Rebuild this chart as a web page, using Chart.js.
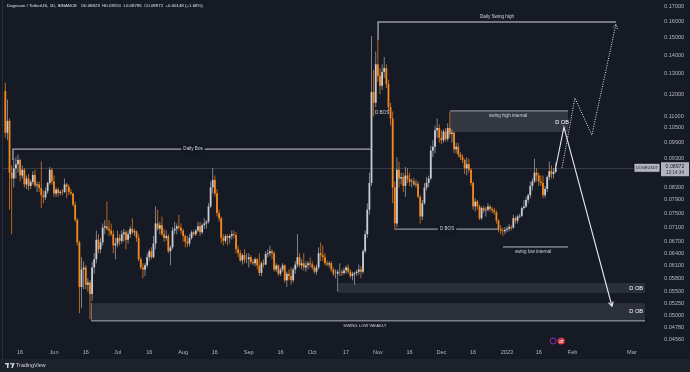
<!DOCTYPE html>
<html>
<head>
<meta charset="utf-8">
<title>Dogecoin / TetherUS, 1D</title>
<script src="https://cdn.jsdelivr.net/npm/chart.js@4.4.1/dist/chart.umd.min.js"></script>
<style>
html,body{margin:0;padding:0;background:#161a25;overflow:hidden;}
#box{width:690px;height:372px;position:relative;}
</style>
</head>
<body>
<div id="box"><canvas id="c" width="690" height="372"></canvas></div>
<script>
// ---- DATA (day index 0 = 2022-05-09, daily candles) ----
const headerTitle = 'Dogecoin / TetherUS, 1D, BINANCE';
const headerValues = ['O0.08823', 'H0.09151', 'L0.08785', 'C0.08972', '+0.00148 (+1.68%)'];
const symbolName = 'DOGEUSDT';
const countdownText = '13:14:34';
const firstOpen = 0.1215;

const closes = [
  // May 9 - May 31
  0.1030,0.1080,0.0880,0.0860,0.0895,0.0910,0.0925,0.0870,0.0890,0.0840,0.0860,0.0835,0.0848,0.0872,0.0836,0.0840,0.0828,0.0805,0.0798,0.0818,0.0845,0.0890,0.0850,
  // Jun
  0.0810,0.0823,0.0812,0.0816,0.0815,0.0840,0.0832,0.0815,0.0810,0.0775,0.0730,0.0668,0.0560,0.0600,0.0605,0.0565,0.0570,0.0545,0.0605,0.0625,0.0675,0.0650,0.0668,0.0708,0.0712,0.0705,0.0700,0.0690,0.0660,0.0665,
  // Jul
  0.0680,0.0672,0.0690,0.0695,0.0675,0.0690,0.0705,0.0695,0.0698,0.0680,0.0625,0.0605,0.0600,0.0610,0.0630,0.0645,0.0630,0.0665,0.0720,0.0705,0.0715,0.0690,0.0680,0.0685,0.0645,0.0655,0.0700,0.0705,0.0712,0.0708,0.0700,
  // Aug
  0.0685,0.0670,0.0665,0.0680,0.0695,0.0690,0.0700,0.0712,0.0695,0.0715,0.0720,0.0725,0.0770,0.0830,0.0855,0.0810,0.0750,0.0735,0.0680,0.0672,0.0685,0.0680,0.0685,0.0690,0.0688,0.0650,0.0640,0.0622,0.0635,0.0625,0.0625,
  // Sep
  0.0630,0.0618,0.0615,0.0625,0.0610,0.0592,0.0615,0.0612,0.0638,0.0640,0.0645,0.0640,0.0600,0.0610,0.0590,0.0600,0.0610,0.0575,0.0590,0.0585,0.0575,0.0600,0.0612,0.0630,0.0610,0.0615,0.0605,0.0610,0.0615,0.0612,
  // Oct
  0.0605,0.0595,0.0605,0.0640,0.0635,0.0630,0.0615,0.0612,0.0615,0.0600,0.0590,0.0590,0.0595,0.0595,0.0592,0.0598,0.0605,0.0595,0.0585,0.0590,0.0592,0.0595,0.0600,0.0595,0.0645,0.0690,0.0760,0.0845,0.1210,0.1160,0.1350,
  // Nov
  0.1290,0.1240,0.1310,0.1330,0.1250,0.1140,0.1090,0.0830,0.0720,0.0890,0.0860,0.0865,0.0835,0.0870,0.0858,0.0848,0.0850,0.0840,0.0842,0.0800,0.0740,0.0780,0.0830,0.0845,0.0860,0.0960,0.0975,0.1040,0.1050,0.1010,
  // Dec
  0.1000,0.1035,0.1005,0.1050,0.1025,0.1030,0.0965,0.0975,0.0945,0.0935,0.0925,0.0895,0.0910,0.0890,0.0845,0.0770,0.0785,0.0770,0.0735,0.0765,0.0758,0.0760,0.0770,0.0762,0.0758,0.0752,0.0728,0.0705,0.0700,0.0698,0.0702,
  // Jan 2023 (1 - 24)
  0.0705,0.0710,0.0708,0.0735,0.0728,0.0740,0.0742,0.0765,0.0770,0.0790,0.0805,0.0835,0.0850,0.0880,0.0870,0.0850,0.0845,0.0805,0.0825,0.0865,0.0885,0.0875,0.08823,0.08972
];
const highs = [
  0.1255,0.1175,0.1090,0.0905,0.0930,0.0935,0.0945,0.0930,0.0905,0.0895,0.0870,0.0875,0.0855,0.0885,0.0890,0.0850,0.0850,0.0920,0.0820,0.0830,0.0850,0.0900,0.0895,
  0.0870,0.0830,0.0830,0.0822,0.0825,0.0860,0.0845,0.0840,0.0825,0.0812,0.0785,0.0735,0.0672,0.0630,0.0620,0.0610,0.0580,0.0575,0.0618,0.0640,0.0700,0.0690,0.0680,0.0720,0.0730,0.0785,0.0730,0.0720,0.0700,0.0680,
  0.0700,0.0690,0.0700,0.0705,0.0700,0.0700,0.0712,0.0735,0.0705,0.0700,0.0690,0.0630,0.0615,0.0615,0.0640,0.0650,0.0655,0.0685,0.0770,0.0760,0.0725,0.0740,0.0705,0.0700,0.0690,0.0660,0.0710,0.0725,0.0720,0.0745,0.0720,
  0.0705,0.0690,0.0685,0.0690,0.0700,0.0700,0.0705,0.0725,0.0725,0.0720,0.0735,0.0730,0.0780,0.0850,0.0897,0.0870,0.0825,0.0760,0.0740,0.0690,0.0690,0.0690,0.0690,0.0700,0.0700,0.0695,0.0660,0.0648,0.0640,0.0650,0.0640,
  0.0640,0.0635,0.0625,0.0630,0.0628,0.0640,0.0620,0.0625,0.0645,0.0650,0.0660,0.0650,0.0645,0.0615,0.0612,0.0605,0.0615,0.0612,0.0595,0.0600,0.0605,0.0605,0.0620,0.0690,0.0640,0.0625,0.0640,0.0620,0.0620,0.0630,
  0.0620,0.0610,0.0612,0.0655,0.0668,0.0660,0.0640,0.0622,0.0620,0.0620,0.0605,0.0600,0.0600,0.0615,0.0600,0.0605,0.0610,0.0612,0.0600,0.0595,0.0595,0.0600,0.0612,0.0608,0.0650,0.0700,0.0780,0.0880,0.1510,0.1320,0.1420,
  0.1495,0.1330,0.1350,0.1390,0.1350,0.1270,0.1160,0.1120,0.0850,0.0935,0.0920,0.0880,0.0880,0.0900,0.0895,0.0880,0.0860,0.0862,0.0855,0.0850,0.0805,0.0790,0.0845,0.0865,0.0870,0.0980,0.1000,0.1060,0.1090,0.1065,
  0.1040,0.1045,0.1050,0.1070,0.1120,0.1045,0.1035,0.0990,0.0990,0.0955,0.0945,0.0930,0.0935,0.0930,0.0895,0.0850,0.0795,0.0790,0.0775,0.0770,0.0772,0.0768,0.0780,0.0775,0.0768,0.0765,0.0758,0.0732,0.0715,0.0708,0.0710,
  0.0712,0.0718,0.0715,0.0745,0.0740,0.0745,0.0748,0.0770,0.0790,0.0800,0.0810,0.0850,0.0860,0.0930,0.0895,0.0880,0.0870,0.0870,0.0835,0.0870,0.0920,0.0905,0.0895,0.09151
];
const lows = [
  0.1010,0.1000,0.0760,0.0690,0.0830,0.0860,0.0880,0.0850,0.0860,0.0830,0.0825,0.0820,0.0825,0.0840,0.0830,0.0815,0.0815,0.0765,0.0780,0.0790,0.0810,0.0840,0.0840,
  0.0800,0.0800,0.0800,0.0805,0.0805,0.0812,0.0795,0.0805,0.0805,0.0770,0.0725,0.0660,0.0505,0.0515,0.0555,0.0555,0.0550,0.0493,0.0530,0.0590,0.0615,0.0640,0.0640,0.0660,0.0690,0.0700,0.0685,0.0685,0.0640,0.0625,
  0.0655,0.0660,0.0665,0.0670,0.0650,0.0665,0.0680,0.0690,0.0685,0.0670,0.0620,0.0600,0.0580,0.0585,0.0605,0.0620,0.0625,0.0628,0.0650,0.0700,0.0690,0.0685,0.0670,0.0672,0.0640,0.0610,0.0650,0.0690,0.0690,0.0700,0.0690,
  0.0670,0.0655,0.0655,0.0658,0.0675,0.0685,0.0685,0.0695,0.0685,0.0690,0.0705,0.0705,0.0720,0.0765,0.0810,0.0800,0.0740,0.0725,0.0665,0.0660,0.0665,0.0660,0.0665,0.0675,0.0680,0.0640,0.0630,0.0618,0.0612,0.0615,0.0615,
  0.0605,0.0612,0.0610,0.0608,0.0600,0.0585,0.0585,0.0605,0.0610,0.0630,0.0632,0.0625,0.0595,0.0595,0.0585,0.0585,0.0595,0.0570,0.0560,0.0575,0.0565,0.0570,0.0590,0.0605,0.0605,0.0600,0.0598,0.0595,0.0600,0.0605,
  0.0600,0.0590,0.0588,0.0600,0.0620,0.0620,0.0610,0.0608,0.0605,0.0595,0.0585,0.0580,0.0550,0.0585,0.0585,0.0588,0.0590,0.0590,0.0580,0.0575,0.0565,0.0585,0.0588,0.0580,0.0590,0.0640,0.0680,0.0745,0.0835,0.1100,0.1140,
  0.1260,0.1200,0.1220,0.1280,0.1230,0.1120,0.1060,0.0780,0.0702,0.0710,0.0830,0.0840,0.0815,0.0800,0.0845,0.0835,0.0830,0.0835,0.0830,0.0795,0.0720,0.0730,0.0775,0.0820,0.0830,0.0855,0.0935,0.0950,0.1010,0.0990,
  0.0985,0.0990,0.0995,0.0995,0.1010,0.0990,0.0950,0.0950,0.0935,0.0925,0.0915,0.0875,0.0870,0.0880,0.0835,0.0760,0.0755,0.0760,0.0730,0.0730,0.0750,0.0740,0.0755,0.0755,0.0750,0.0745,0.0720,0.0695,0.0690,0.0685,0.0690,
  0.0695,0.0698,0.0700,0.0705,0.0720,0.0720,0.0735,0.0738,0.0760,0.0765,0.0780,0.0795,0.0820,0.0845,0.0850,0.0835,0.0835,0.0795,0.0798,0.0815,0.0855,0.0860,0.0860,0.08785
];

const xTickDays   = [7, 23, 38, 53, 68, 84, 99, 115, 130, 145, 161, 176, 191, 206, 221, 237, 252, 268, 296];
const xTickLabels = ['16','Jun','16','Jul','16','Aug','16','Sep','16','Oct','17','Nov','16','Dec','16','2023','16','Feb','Mar'];
const yTickValues = [0.17,0.16,0.15,0.14,0.13,0.12,0.11,0.105,0.099,0.093,0.083,0.079,0.075,0.071,0.067,0.064,0.061,0.058,0.055,0.0525,0.05,0.0478,0.0456];

// drawn levels: [startDay, endDay, price]
const dailyBosLine        = [3.6, 173.2, 0.0966];
const dailyBosTickLow     = [0.0925];
const dailySwingHighLine  = [176.1, 288.5, 0.1596];
const swingHighTickLow    = [0.1490];
const dBosLowLine         = [184.1, 233.2, 0.0704];
const swingLowInternalLine= [235.1, 265.8, 0.0656];
const swingLowWeeklyLine  = [40.5, 0.0490];            // to right edge
// boxes: [startDay, endDay|null, topPrice, bottomPrice]
const swingHighBox   = [210.1, 265.8, 0.1123, 0.1033];
const upperOBBox     = [157.2, null, 0.0569, 0.0547];
const lowerOBBox     = [40.5, null, 0.05255, 0.04915];
// projections
const projSolidDays    = [260, 263.9, 286.6];
const projSolidPrices  = [0.08972, 0.1053, 0.0519];
const projDottedDays   = [263.0, 269.1, 277.1, 288.5];
const projDottedPrices = [0.0897, 0.1182, 0.1021, 0.1583];
// text labels: [text, day, price]
const labelDailyBos      = ['Daily Bos', 88.7, 0.0966];
const labelSwingHigh     = ['Daily Swing high', 232.3, 0.1630];
const labelDBosUpper     = ['D BOS', 178.0, 0.1114];
const labelDBosLower     = ['D BOS', 208.7, 0.0704];
const labelSwingHighInt  = ['swing high internal', 237.5, 0.1101];
const labelDOBTop        = ['D OB', 263.0, 0.1073];
const labelSwingLowInt   = ['swing low internal', 249.3, 0.0643];
const labelSwingLowWeek  = ['SWING LOW WEAKLY', 169.9, 0.0481];
const labelOB            = 'D OB';
const eventDays = [258.8, 262.6];

// ---- derived ----
const days  = closes.map((_, i) => i);
const opens = [firstOpen].concat(closes.slice(0, -1));
const isUp  = closes.map((c, i) => c >= opens[i]);

const BG = '#161a25', FOOT = '#1e222d', TXT = '#b2b5be', LIGHT = '#d1d4dc';
const UP = '#c9ccd3', DOWN = '#f5891f', UPW = '#8c8f99', DOWNW = '#c8721a';
const FONT = "'Liberation Sans', Arial, sans-serif";

function txt(c, s, x, y, o) {
  o = o || {};
  c.font = (o.bold ? 'bold ' : '') + (o.size || 4.6) + 'px ' + FONT;
  c.textAlign = o.align || 'center';
  c.textBaseline = 'middle';
  if (o.bg) {
    const w = c.measureText(s).width;
    let lx = x - w / 2;
    if (c.textAlign === 'left') lx = x;
    if (c.textAlign === 'right') lx = x - w;
    c.fillStyle = o.bg;
    c.fillRect(lx - 2, y - (o.size || 4.6) / 2 - 1.5, w + 4, (o.size || 4.6) + 3);
  }
  c.fillStyle = o.color || LIGHT;
  c.fillText(s, x, y);
}

function arrowHead(c, x0, y0, x1, y1, len) {
  const a = Math.atan2(y1 - y0, x1 - x0);
  c.beginPath();
  c.moveTo(x1 - len * Math.cos(a - 0.5), y1 - len * Math.sin(a - 0.5));
  c.lineTo(x1, y1);
  c.lineTo(x1 - len * Math.cos(a + 0.5), y1 - len * Math.sin(a + 0.5));
  c.stroke();
}

const tvPlugin = {
  id: 'tvDecor',
  beforeDraw(chart) {
    const {ctx: c, width: W, height: H, chartArea: a} = chart;
    c.save();
    c.fillStyle = BG; c.fillRect(0, 0, W, H);
    c.fillStyle = FOOT; c.fillRect(0, H - 13, W, 13);
    c.strokeStyle = '#2a2e39'; c.lineWidth = 1;
    c.beginPath(); c.moveTo(a.left - 0.5, 0); c.lineTo(a.left - 0.5, H - 13); c.stroke();
    c.restore();
  },
  beforeDatasetsDraw(chart) {
    const {ctx: c, chartArea: a, scales: {x, y}} = chart;
    const X = d => x.getPixelForValue(d), Y = p => y.getPixelForValue(p);
    c.save();
    c.beginPath(); c.rect(a.left, a.top, a.right - a.left, a.bottom - a.top); c.clip();
    // current price line
    const yl = Math.round(Y(closes[closes.length - 1])) + 0.5;
    c.strokeStyle = '#363a46'; c.lineWidth = 1;
    c.beginPath(); c.moveTo(a.left, yl); c.lineTo(a.right, yl); c.stroke();
    // boxes
    const box = (b, fill) => {
      const x0 = X(b[0]), x1 = b[1] === null ? a.right : X(b[1]);
      const y0 = Y(b[2]), y1 = Y(b[3]);
      c.fillStyle = fill; c.fillRect(x0, y0, x1 - x0, y1 - y0);
      return [x0, x1, y0, y1];
    };
    const sb = box(swingHighBox, 'rgba(120,123,134,0.30)');
    c.strokeStyle = '#8a8d97'; c.lineWidth = 1.2;
    c.beginPath(); c.moveTo(sb[0], sb[2]); c.lineTo(sb[1], sb[2]); c.stroke();
    box(upperOBBox, 'rgba(120,123,134,0.22)');
    const lb = box(lowerOBBox, 'rgba(120,123,134,0.22)');
    c.strokeStyle = '#6f727d'; c.lineWidth = 1;
    c.beginPath(); c.moveTo(lb[0] + 0.5, lb[2]); c.lineTo(lb[0] + 0.5, lb[3]); c.stroke();
    c.restore();
  },
  afterDatasetsDraw(chart) {
    const {ctx: c, chartArea: a, scales: {x, y}, width: W, height: H} = chart;
    const X = d => x.getPixelForValue(d), Y = p => y.getPixelForValue(p);
    c.save();
    c.beginPath(); c.rect(a.left, a.top, a.right - a.left, a.bottom - a.top); c.clip();
    c.lineCap = 'butt';
    // Daily Bos line
    c.strokeStyle = '#a5a8b1'; c.lineWidth = 1.3;
    c.beginPath();
    c.moveTo(X(dailyBosLine[0]), Y(dailyBosTickLow[0]));
    c.lineTo(X(dailyBosLine[0]), Y(dailyBosLine[2]));
    c.lineTo(X(dailyBosLine[1]), Y(dailyBosLine[2]));
    c.stroke();
    // Daily swing high line
    c.strokeStyle = '#9598a1'; c.lineWidth = 1.5;
    c.beginPath();
    c.moveTo(X(dailySwingHighLine[0]), Y(swingHighTickLow[0]));
    c.lineTo(X(dailySwingHighLine[0]), Y(dailySwingHighLine[2]));
    c.lineTo(X(dailySwingHighLine[1]), Y(dailySwingHighLine[2]));
    c.stroke();
    // D BOS lower line
    c.strokeStyle = '#b2b5be'; c.lineWidth = 1;
    c.beginPath(); c.moveTo(X(dBosLowLine[0]), Y(dBosLowLine[2])); c.lineTo(X(dBosLowLine[1]), Y(dBosLowLine[2])); c.stroke();
    // swing low internal
    c.beginPath(); c.moveTo(X(swingLowInternalLine[0]), Y(swingLowInternalLine[2])); c.lineTo(X(swingLowInternalLine[1]), Y(swingLowInternalLine[2])); c.stroke();
    // swing low weekly
    c.strokeStyle = '#7d808b'; c.lineWidth = 1.5;
    c.beginPath(); c.moveTo(X(swingLowWeeklyLine[0]), Y(swingLowWeeklyLine[1])); c.lineTo(a.right, Y(swingLowWeeklyLine[1])); c.stroke();

    // projection solid
    c.strokeStyle = '#e6e8ee'; c.lineWidth = 1.1;
    const sp = projSolidDays.map((d, i) => [X(d), Y(projSolidPrices[i])]);
    c.beginPath(); sp.forEach((p, i) => i ? c.lineTo(p[0], p[1]) : c.moveTo(p[0], p[1])); c.stroke();
    const n = sp.length - 1;
    arrowHead(c, sp[n - 1][0], sp[n - 1][1], sp[n][0], sp[n][1], 5);
    // projection dotted
    c.setLineDash([1, 1.4]); c.lineWidth = 1;
    const dp = projDottedDays.map((d, i) => [X(d), Y(projDottedPrices[i])]);
    c.beginPath(); dp.forEach((p, i) => i ? c.lineTo(p[0], p[1]) : c.moveTo(p[0], p[1])); c.stroke();
    const m = dp.length - 1;
    arrowHead(c, dp[m - 1][0], dp[m - 1][1], dp[m][0], dp[m][1], 5);
    c.setLineDash([]);

    // labels
    const L = (l, o) => txt(c, l[0], X(l[1]), Y(l[2]), o);
    L(labelDailyBos, {bg: '#131722'});
    L(labelSwingHigh, {});
    L(labelDBosUpper, {});
    L(labelDBosLower, {bg: '#131722'});
    L(labelSwingHighInt, {});
    L(labelDOBTop, {size: 5.6, color: '#ffffff'});
    L(labelSwingLowInt, {});
    L(labelSwingLowWeek, {size: 4.2});
    txt(c, labelOB, a.right - 2, (Y(upperOBBox[2]) + Y(upperOBBox[3])) / 2, {size: 5.6, align: 'right', color: '#ffffff'});
    txt(c, labelOB, a.right - 2, (Y(lowerOBBox[2]) + Y(lowerOBBox[3])) / 2, {size: 5.6, align: 'right', color: '#ffffff'});

    // event markers at bottom
    const ey = a.bottom - 4;
    c.strokeStyle = '#9c27b0'; c.lineWidth = 1;
    c.beginPath(); c.arc(X(eventDays[0]), ey, 3, 0, Math.PI * 2); c.stroke();
    c.fillStyle = '#e53935';
    c.beginPath(); c.arc(X(eventDays[1]), ey, 3.6, 0, Math.PI * 2); c.fill();
    c.fillStyle = '#ffffff'; c.fillRect(X(eventDays[1]) - 2, ey - 1, 4, 0.8); c.fillRect(X(eventDays[1]) - 2, ey + 0.7, 4, 0.8);
    c.fillStyle = '#1e4fbf'; c.fillRect(X(eventDays[1]) - 2.2, ey - 2.4, 2, 1.8);
    c.restore();

    // price labels on right
    c.save();
    const yl = Y(closes[closes.length - 1]);
    c.fillStyle = '#b2b5be';
    c.fillRect(a.right - 11, yl - 4.5, 26, 9);
    c.strokeStyle = '#0c0e15'; c.lineWidth = 0.8; c.strokeRect(a.right - 11, yl - 4.5, 26, 9);
    c.font = '10px ' + FONT;
    const sw = c.measureText(symbolName).width;
    txt(c, symbolName, a.right + 2, yl, {size: 10 * 22 / sw, color: '#131722'});
    c.fillStyle = '#b2b5be';
    c.fillRect(a.right + 16, yl - 5.5, 28, 14);
    txt(c, closes[closes.length - 1].toFixed(5), a.right + 30, yl - 1.5, {size: 5.2, color: '#131722'});
    txt(c, countdownText, a.right + 30, yl + 4.5, {size: 4.6, color: '#2a2e39'});

    // header
    const head = headerTitle + '   ' + headerValues.join('  ');
    c.font = '10px ' + FONT;
    const hw = c.measureText(head).width;
    txt(c, head, a.left + 4, 5.5, {size: 10 * 196 / hw, align: 'left', color: '#e0e3eb'});

    // footer logo + text
    const fy = H - 6.5;
    c.fillStyle = '#d1d4dc';
    c.fillRect(5, fy - 2.5, 4, 1.4); c.fillRect(7, fy - 2.5, 1.5, 5);
    c.beginPath(); c.arc(11, fy - 1.8, 0.9, 0, Math.PI * 2); c.fill();
    c.beginPath(); c.moveTo(12.5, fy - 2.5); c.lineTo(14.6, fy - 2.5); c.lineTo(12.8, fy + 2.5); c.lineTo(11.3, fy + 2.5); c.closePath(); c.fill();
    txt(c, 'TradingView', 16, fy, {size: 5.4, align: 'left', color: '#d1d4dc'});
    c.restore();
  }
};

new Chart(document.getElementById('c'), {
  type: 'bar',
  data: {
    datasets: [
      {
        label: 'wick',
        data: days.map((d, i) => ({x: d, y: [lows[i], highs[i]]})),
        backgroundColor: isUp.map(u => u ? UPW : DOWNW),
        barPercentage: 0.42, categoryPercentage: 1, grouped: false, order: 2
      },
      {
        label: 'body',
        data: days.map((d, i) => ({x: d, y: [opens[i], closes[i]]})),
        backgroundColor: isUp.map(u => u ? UP : DOWN),
        barPercentage: 0.85, categoryPercentage: 1, grouped: false, order: 1
      }
    ]
  },
  options: {
    responsive: false, animation: false, devicePixelRatio: 1, events: [],
    layout: {padding: {left: 3, right: 0, top: 0, bottom: 0}},
    plugins: {legend: {display: false}, tooltip: {enabled: false}, title: {display: false}},
    scales: {
      x: {
        type: 'linear', min: -1.09, max: 302.2, offset: false, bounds: 'data',
        grid: {display: false, drawTicks: false}, border: {display: false},
        ticks: {autoSkip: false, maxRotation: 0, minRotation: 0, color: TXT, padding: 4,
                font: {family: FONT, size: 5.6}, callback: (v, i) => xTickLabels[i]},
        afterBuildTicks: s => { s.ticks = xTickDays.map(v => ({value: v})); },
        afterFit: s => { s.height = 27; s.paddingLeft = 0; s.paddingRight = 0; }
      },
      y: {
        type: 'logarithmic', position: 'right', min: 0.04453, max: 0.1741, bounds: 'data',
        grid: {display: false, drawTicks: false}, border: {display: false},
        ticks: {autoSkip: false, color: TXT, padding: 19, font: {family: FONT, size: 5.6},
                callback: v => Number(v).toFixed(5)},
        afterBuildTicks: s => { s.ticks = yTickValues.map(v => ({value: v})); },
        afterFit: s => { s.width = 45; s.paddingTop = 0; s.paddingBottom = 0; }
      }
    }
  },
  plugins: [tvPlugin]
});
</script>
</body>
</html>
